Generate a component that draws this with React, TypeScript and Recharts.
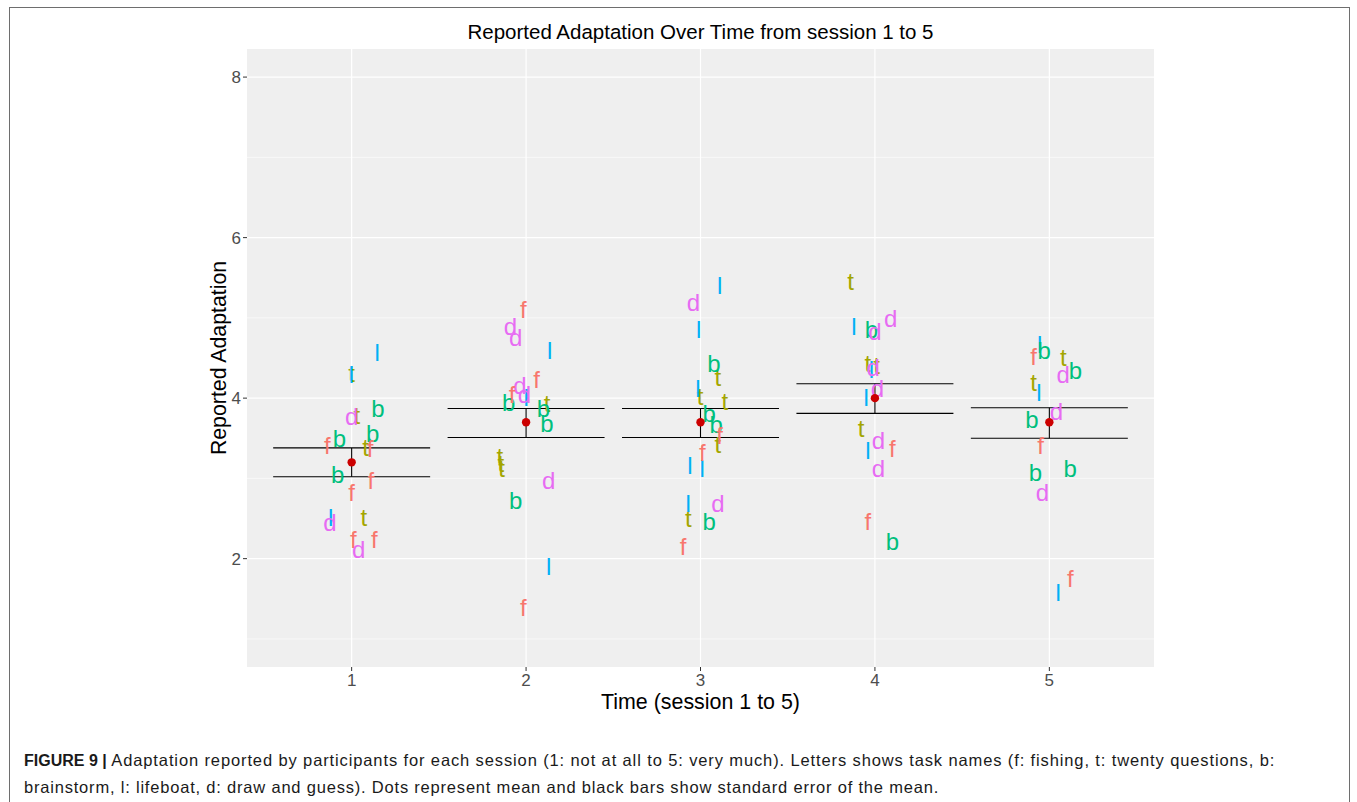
import React from 'react';
import {
  ComposedChart,
  Scatter,
  XAxis,
  YAxis,
  ReferenceLine,
  ReferenceArea,
  Label,
} from 'recharts';

// ---- data ----
const sessions = [1, 2, 3, 4, 5];
const sessionMeans = [3.2, 3.7, 3.7, 4.0, 3.7];
const seUpper = [3.38, 3.87, 3.87, 4.18, 3.88];
const seLower = [3.02, 3.51, 3.51, 3.81, 3.5];
const yTicks = [2, 4, 6, 8];
const yMinorGrid = [1, 3, 5, 7];
const xDomain = [0.4, 5.6];
const yDomain = [0.65, 8.35];
const errorBarHalfWidth = 0.45;

// jittered [session, adaptation] per task
const fishing = [
  [0.86, 3.41], [1.105, 3.37], [1.11, 2.98], [1.0, 2.82], [1.01, 2.24], [1.13, 2.24],
  [1.985, 5.11], [2.06, 4.23], [1.92, 4.05], [1.985, 1.39],
  [3.11, 3.54], [3.01, 3.33], [2.9, 2.15],
  [4.1, 3.37], [3.96, 2.46],
  [4.91, 4.52], [4.95, 3.41], [5.12, 1.76],
];
const twentyQuestions = [
  [1.0, 4.31], [1.03, 3.78], [1.08, 3.39], [1.07, 2.52],
  [2.12, 3.93], [1.85, 3.27], [1.855, 3.19], [1.86, 3.12],
  [3.1, 4.26], [2.997, 4.02], [3.14, 3.96], [3.1, 3.43], [2.93, 2.5],
  [3.86, 5.46], [3.96, 4.43], [4.01, 4.41], [3.92, 3.62],
  [5.08, 4.51], [4.91, 4.2],
];
const brainstorm = [
  [1.15, 3.87], [0.93, 3.5], [1.12, 3.56], [0.92, 3.05],
  [1.9, 3.95], [2.1, 3.87], [2.12, 3.68], [1.94, 2.73],
  [3.077, 4.43], [3.05, 3.81], [3.09, 3.67], [3.05, 2.46],
  [3.98, 4.86], [4.1, 2.21],
  [4.97, 4.6], [5.15, 4.35], [4.9, 3.73], [4.92, 3.07], [5.12, 3.12],
];
const lifeboat = [
  [1.147, 4.57], [0.998, 4.3], [0.88, 2.51],
  [2.135, 4.59], [2.0, 4.01], [2.13, 1.9],
  [3.11, 5.4], [2.99, 4.86], [2.985, 4.12], [2.94, 3.16], [3.01, 3.12], [2.93, 2.69],
  [3.88, 4.9], [3.98, 4.36], [3.95, 4.01], [3.96, 3.35],
  [4.945, 4.67], [4.94, 4.07], [5.05, 1.58],
];
const drawAndGuess = [
  [1.0, 3.77], [0.875, 2.45], [1.04, 2.11],
  [1.91, 4.9], [1.94, 4.76], [1.965, 4.16], [1.99, 4.05], [2.13, 2.98],
  [2.96, 5.19], [3.1, 2.69],
  [4.09, 5.0], [4.0, 4.83], [3.99, 4.38], [4.015, 4.12], [4.02, 3.48], [4.02, 3.12],
  [5.08, 4.29], [5.04, 3.84], [4.96, 2.83],
];

const tasks = [
  { letter: 't', color: '#A3A500', points: twentyQuestions },
  { letter: 'l', color: '#00B0F6', points: lifeboat },
  { letter: 'b', color: '#00BF7D', points: brainstorm },
  { letter: 'd', color: '#E76BF3', points: drawAndGuess },
  { letter: 'f', color: '#F8766D', points: fishing },
];

const FONT = '"Liberation Sans", Arial, Helvetica, sans-serif';

const meanData = sessions.map((s, i) => ({ x: s, y: sessionMeans[i] }));

const letterShape = (letter: string, color: string) => (props: any) => {
  const { cx, cy } = props;
  if (cx == null || cy == null) return <g />;
  return (
    <text
      x={cx}
      y={cy}
      dy="0.36em"
      textAnchor="middle"
      fill={color}
      fontSize={24}
      fontFamily={FONT}
    >
      {letter}
    </text>
  );
};

const meanShape = (props: any) => {
  const { cx, cy } = props;
  if (cx == null || cy == null) return <g />;
  return <circle cx={cx} cy={cy} r={4.2} fill="#CC0000" />;
};

export default function App() {
  return (
    <div
      style={{
        position: 'absolute',
        left: 0,
        top: 0,
        width: 1357,
        height: 802,
        overflow: 'hidden',
        background: '#fff',
        fontFamily: FONT,
      }}
    >
      <div
        style={{
          position: 'absolute',
          left: 9,
          top: 7,
          width: 1341,
          height: 820,
          border: '1.5px solid #6e6e6e',
          boxSizing: 'border-box',
        }}
      />
      <div
        style={{
          position: 'absolute',
          left: 247,
          width: 907,
          top: 20,
          lineHeight: '24px',
          fontSize: 20.5,
          textAlign: 'center',
          color: '#000',
          whiteSpace: 'nowrap',
        }}
      >
        Reported Adaptation Over Time from session 1 to 5
      </div>
      <div style={{ position: 'absolute', left: 0, top: 0 }}>
        <ComposedChart
          width={1357}
          height={802}
          margin={{ top: 49, right: 203, bottom: 95, left: 187 }}
        >
          <XAxis
            type="number"
            dataKey="x"
            domain={xDomain}
            ticks={sessions}
            allowDataOverflow
            axisLine={false}
            tickLine={{ stroke: '#333333', strokeWidth: 1 }}
            tickSize={4}
            tickMargin={3}
            height={40}
            tick={{ fill: '#4D4D4D', fontSize: 17, fontFamily: FONT }}
          >
            <Label
              content={(p: any) => {
                const vb = p.viewBox || {};
                return (
                  <text
                    x={vb.x + vb.width / 2}
                    y={vb.y + 35}
                    dy="0.35em"
                    textAnchor="middle"
                    fontSize={21.4}
                    fontFamily={FONT}
                    fill="#000"
                  >
                    Time (session 1 to 5)
                  </text>
                );
              }}
            />
          </XAxis>
          <YAxis
            type="number"
            dataKey="y"
            domain={yDomain}
            ticks={yTicks}
            allowDataOverflow
            axisLine={false}
            tickLine={{ stroke: '#333333', strokeWidth: 1 }}
            tickSize={4}
            tickMargin={2}
            width={60}
            tick={{ fill: '#4D4D4D', fontSize: 17, fontFamily: FONT }}
          >
            <Label
              content={(p: any) => {
                const vb = p.viewBox || {};
                const x = vb.x + vb.width - 28;
                const y = vb.y + vb.height / 2;
                return (
                  <text
                    x={x}
                    y={y}
                    dy="0.35em"
                    textAnchor="middle"
                    fontSize={21.3}
                    fontFamily={FONT}
                    fill="#000"
                    transform={`rotate(-90, ${x}, ${y})`}
                  >
                    Reported Adaptation
                  </text>
                );
              }}
            />
          </YAxis>

          <ReferenceArea
            x1={xDomain[0]}
            x2={xDomain[1]}
            y1={yDomain[0]}
            y2={yDomain[1]}
            fill="#EFEFEF"
            fillOpacity={1}
            stroke="none"
            ifOverflow="visible"
          />
          {yMinorGrid.map((v) => (
            <ReferenceLine key={'mg' + v} y={v} stroke="#FFFFFF" strokeWidth={0.6} />
          ))}
          {yTicks.map((v) => (
            <ReferenceLine key={'yg' + v} y={v} stroke="#FFFFFF" strokeWidth={1.2} />
          ))}
          {sessions.map((v) => (
            <ReferenceLine key={'xg' + v} x={v} stroke="#FFFFFF" strokeWidth={1.2} />
          ))}

          {tasks.map((t) => (
            <Scatter
              key={t.letter}
              data={t.points.map(([x, y]) => ({ x, y }))}
              dataKey="y"
              shape={letterShape(t.letter, t.color)}
              isAnimationActive={false}
            />
          ))}

          {sessions.map((s, i) => (
            <ReferenceLine
              key={'up' + s}
              segment={[
                { x: s - errorBarHalfWidth, y: seUpper[i] },
                { x: s + errorBarHalfWidth, y: seUpper[i] },
              ]}
              stroke="#000"
              strokeWidth={1.1}
            />
          ))}
          {sessions.map((s, i) => (
            <ReferenceLine
              key={'lo' + s}
              segment={[
                { x: s - errorBarHalfWidth, y: seLower[i] },
                { x: s + errorBarHalfWidth, y: seLower[i] },
              ]}
              stroke="#000"
              strokeWidth={1.1}
            />
          ))}
          {sessions.map((s, i) => (
            <ReferenceLine
              key={'v' + s}
              segment={[
                { x: s, y: seLower[i] },
                { x: s, y: seUpper[i] },
              ]}
              stroke="#000"
              strokeWidth={1.1}
            />
          ))}

          <Scatter
            data={meanData}
            dataKey="y"
            shape={meanShape}
            isAnimationActive={false}
          />
        </ComposedChart>
      </div>
      <div
        style={{
          position: 'absolute',
          left: 24,
          top: 747,
          fontSize: 16.5,
          lineHeight: '27px',
          color: '#1a1a1a',
          whiteSpace: 'nowrap',
        }}
      >
        <div>
          <b style={{ fontSize: 16 }}>FIGURE 9 |</b>{' '}
          <span style={{ letterSpacing: '0.88px' }}>
            Adaptation reported by participants for each session (1: not at all to 5: very much).
            Letters shows task names (f: fishing, t: twenty questions, b:
          </span>
        </div>
        <div style={{ letterSpacing: '0.8px' }}>
          brainstorm, l: lifeboat, d: draw and guess). Dots represent mean and black bars show standard
          error of the mean.
        </div>
      </div>
    </div>
  );
}
